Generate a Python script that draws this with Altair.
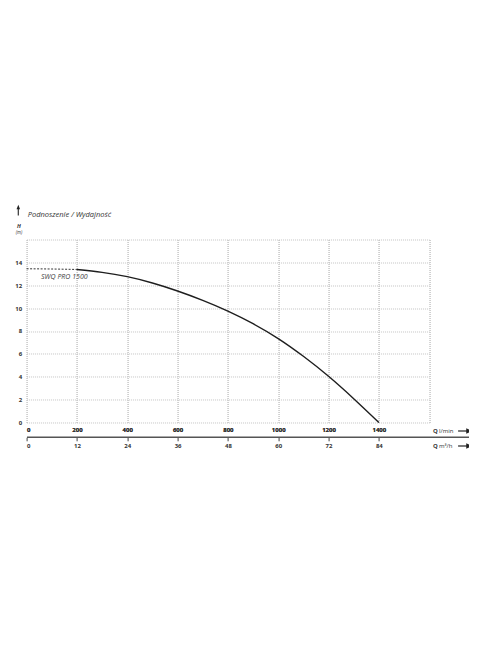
import altair as alt
import pandas as pd

# ---- data ----
flow_solid = [200, 300, 400, 500, 600, 700, 800, 900, 1000, 1100, 1200, 1300, 1400]
head_solid = [13.38, 13.13, 12.75, 12.2, 11.5, 10.68, 9.74, 8.64, 7.34, 5.79, 4.04, 2.08, 0.0]
flow_dash = [0, 100, 200]
head_dash = [13.44, 13.42, 13.38]
x_ticks = [0, 200, 400, 600, 800, 1000, 1200, 1400, 1600]
y_ticks = [0, 2, 4, 6, 8, 10, 12, 14, 16]
m3h_labels = ["0", "12", "24", "36", "48", "60", "72", "84"]
series_name = "SWQ PRO 1500"
title_text = "Podnoszenie / Wydajność"

W, H = 402.6, 183
FONT = "Open Sans"
TXT = "#333333"

solid_df = pd.DataFrame({"Q": flow_solid, "H": head_solid})
dash_df = pd.DataFrame({"Q": flow_dash, "H": head_dash})

xscale = alt.Scale(domain=[0, 1600], nice=False, zero=True)
yscale = alt.Scale(domain=[0, 16], nice=False)

axis_x1 = alt.Axis(
    orient="bottom", values=x_ticks, title=None, domain=False, ticks=False, tickSize=0,
    format="d",
    labelExpr="datum.value == 1600 ? '' : datum.label", labelFont=FONT, labelFontSize=6,
    labelFontWeight="bold", labelColor=TXT, labelPadding=4,
    grid=True, gridColor="#c4c4c4", gridDash=[1, 1], gridWidth=1,
)
axis_y = alt.Axis(
    values=y_ticks, title=None, domain=False, ticks=False, tickSize=0,
    format="d",
    labelExpr="datum.value == 16 ? '' : datum.label", labelFont=FONT, labelFontSize=6,
    labelFontWeight="bold", labelColor=TXT, labelPadding=5,
    grid=True, gridColor="#c4c4c4", gridDash=[1, 1], gridWidth=1,
)
m3h_list = "[" + ",".join("'%s'" % s for s in m3h_labels) + "]"
axis_x2 = alt.Axis(
    orient="bottom", values=x_ticks[:-1], title=None, domain=False, ticks=True,
    tickSize=3.5, tickColor="#444444", tickWidth=1, offset=14.8,
    labelExpr="datum.value / 200 < 8 ? " + m3h_list + "[datum.value / 200] : ''",
    labelFont=FONT, labelFontSize=6, labelFontWeight="bold", labelColor=TXT, labelPadding=2,
    grid=False,
)

solid = alt.Chart(solid_df).mark_line(
    interpolate="natural", color="#1e1e1e", strokeWidth=1.4
).encode(
    x=alt.X("Q:Q", scale=xscale, axis=axis_x1),
    y=alt.Y("H:Q", scale=yscale, axis=axis_y),
)
dashed = alt.Chart(dash_df).mark_line(
    interpolate="monotone", color="#1e1e1e", strokeWidth=0.9, strokeDash=[2, 1.5]
).encode(
    x=alt.X("Q:Q", scale=xscale, axis=axis_x2),
    y=alt.Y("H:Q", scale=yscale, axis=axis_y),
)

label = alt.Chart(pd.DataFrame({"Q": [150], "H": [12.7], "t": [series_name]})).mark_text(
    font=FONT, fontSize=7, fontStyle="italic", color="#444444", align="center", baseline="middle"
).encode(
    x=alt.X("Q:Q", scale=xscale, axis=axis_x1),
    y=alt.Y("H:Q", scale=yscale, axis=axis_y),
    text="t:N",
)

def txt(t, x, y, size=6, weight="normal", style="normal", align="left"):
    return alt.Chart(pd.DataFrame({"t": [t]})).mark_text(
        font=FONT, fontSize=size, fontWeight=weight, fontStyle=style, color=TXT,
        align=align, baseline="middle",
    ).encode(x=alt.value(x), y=alt.value(y), text="t:N")

def hrule(x1, x2, y, color="#333333", w=1.0):
    return alt.Chart(pd.DataFrame({"a": [0]})).mark_rule(color=color, strokeWidth=w).encode(
        x=alt.value(x1), x2=alt.value(x2), y=alt.value(y)
    )

def vrule(x, y1, y2, color="#333333", w=1.0):
    return alt.Chart(pd.DataFrame({"a": [0]})).mark_rule(color=color, strokeWidth=w).encode(
        x=alt.value(x), y=alt.value(y1), y2=alt.value(y2)
    )

RIGHT = "M-1,-0.8L1,0L-1,0.8Z"
UP = "M-0.75,1L0,-1L0.75,1Z"

def head(x, y, shape, size=12):
    return alt.Chart(pd.DataFrame({"a": [0]})).mark_point(
        shape=shape, filled=True, color="#222222", size=size, opacity=1, strokeWidth=0
    ).encode(x=alt.value(x), y=alt.value(y))

layers = [
    solid, dashed, label,
    # header
    vrule(-8.3, -31, -24, w=1.2), head(-8.3, -32.5, UP, 22),
    txt(title_text, 1.1, -24.5, size=7.5, style="italic"),
    txt("H", -7.6, -13.5, size=5.5, weight="bold", style="italic", align="center"),
    txt("(m)", -7.6, -6.2, size=4.5, style="italic", align="center"),
    # bottom axis line
    hrule(0.4, 451.4, 197.8, color="#555555", w=1.5),
    txt("Q", 406.4, 191.5, size=6, weight="bold"),
    txt("l/min", 412.4, 191.5, size=6),
    hrule(431.5, 441, 191.5, color="#222222", w=1.2), head(443, 191.5, RIGHT, 45),
    txt("Q", 406.4, 206.5, size=6, weight="bold"),
    txt("m³/h", 412.4, 206.5, size=6),
    hrule(431.5, 441, 206.5, color="#222222", w=1.2), head(443, 206.5, RIGHT, 45),
]

chart = alt.layer(*layers).resolve_axis(x="independent").properties(
    width=W, height=H,
    autosize=alt.AutoSizeParams(type="none"),
    padding={"left": 18.6, "top": 231.5, "right": 40, "bottom": 200},
    background="white",
).configure_view(stroke=None)

chart.save("out.html", embed_options={"renderer": "svg", "actions": False})
